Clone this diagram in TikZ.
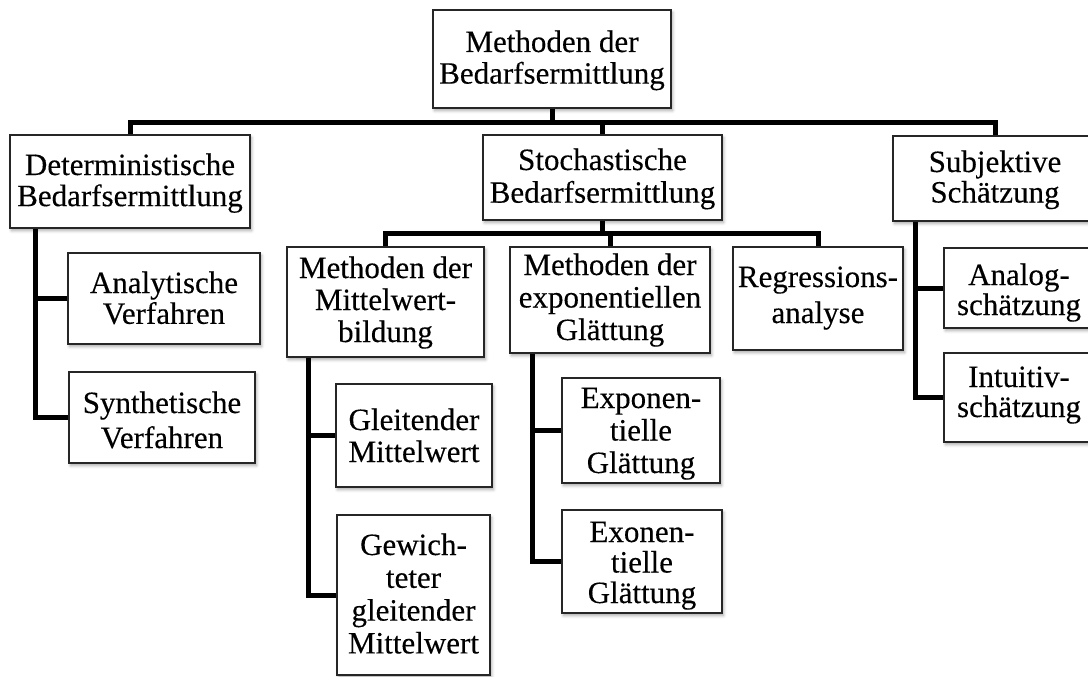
\documentclass[tikz,border=0pt]{standalone}
\usepackage{fontspec}
\setmainfont{Liberation Serif}
\newfontfamily\boxfont{Liberation Serif}[FakeBold=0.25]
\usetikzlibrary{shadows.blur}
\pgfdeclarelayer{bg}
\pgfsetlayers{bg,main}
\tikzset{
  box/.style={draw=black!85, line width=2.2pt, fill=white, inner sep=0pt,
    blur shadow={shadow xshift=1.5pt, shadow yshift=-2.5pt,
      shadow blur radius=3pt, shadow opacity=35}},
  label/.style={inner sep=0pt, anchor=base},
  conn/.style={line width=5pt, black, line join=miter, line cap=butt}
}
% \boxat{name}{left}{top}{right}{bottom}{leading}{first baseline}{lines}
\newcommand{\boxat}[8]{%
  \node[box, minimum width={#4-#2}, minimum height={#5-#3}] (#1)
    at ({(#2+#4)/2},{(#3+#5)/2}) {};
  \node[label] (#1-t) at ({(#2+#4)/2},#7)
    {\boxfont\fontsize{31}{#6}\selectfont\setlength{\tabcolsep}{0pt}%
     \begin{tabular}[t]{c}#8\end{tabular}};}
\begin{document}
\begin{tikzpicture}[x=1pt, y=-1pt]
\useasboundingbox (0,0) rectangle (1088,677);
\clip (0,0) rectangle (1088,677);

\boxat{root}{433}{10}{671}{108}{31.6}{52}{Methoden der\\Bedarfsermittlung}
\boxat{det}{10}{135}{250}{228}{31}{175}{Deterministische\\Bedarfsermittlung}
\boxat{sto}{483}{135}{722}{220}{32.7}{170}{Stochastische\\Bedarfsermittlung}
\boxat{sub}{893}{136}{1097}{221}{30}{172}{Subjektive\\Schätzung}
\boxat{ana}{68}{253}{260}{344}{30}{293}{Analytische\\Verfahren}
\boxat{syn}{69}{372}{255}{463}{35}{413}{Synthetische\\Verfahren}
\boxat{mit}{287}{247}{484}{357}{32}{278}{Methoden der\\Mittelwert-\\bildung}
\boxat{exp}{510}{247}{710}{353}{32.5}{275}{Methoden der\\exponentiellen\\Glättung}
\boxat{reg}{733}{247}{903}{350}{36}{287}{Regressions-\\analyse}
\boxat{alg}{944}{248}{1094}{328}{28.3}{285}{Analog-\\schätzung}
\boxat{int}{944}{353}{1094}{442}{28.3}{387}{Intuitiv-\\schätzung}
\boxat{gl}{336}{384}{492}{487}{32}{430}{Gleitender\\Mittelwert}
\boxat{gw}{337}{515}{490}{675}{32.8}{555}{Gewich-\\teter\\gleitender\\Mittelwert}
\boxat{ex1}{562}{378}{720}{483}{32.5}{408}{Exponen-\\tielle\\Glättung}
\boxat{ex2}{562}{510}{722}{613}{30}{542}{Exonen-\\tielle\\Glättung}

% bus levels and trunk positions
\coordinate (b1) at (0,122);
\coordinate (b2) at (0,233);
\coordinate (t1) at (35,0);
\coordinate (t2) at (308,0);
\coordinate (t3) at (532,0);
\coordinate (t4) at (915,0);

\begin{pgfonlayer}{bg}
  % first level
  \draw[conn] (root.south) -- (root.south |- b1);
  \draw[conn] (det.north) |- (sub.north |- b1) -- (sub.north);
  \draw[conn] (sto.north) -- (sto.north |- b1);
  % second level
  \draw[conn] (sto.south) -- (sto.south |- b2);
  \draw[conn] (mit.north) |- (reg.north |- b2) -- (reg.north);
  \draw[conn] (exp.north) -- (exp.north |- b2);
  % side trunks
  \draw[conn] (t1 |- det.south) |- (syn.west);
  \draw[conn] (t1 |- ana.west) -- (ana.west);
  \draw[conn] (t2 |- mit.south) |- (gw.west);
  \draw[conn] (t2 |- gl.west) -- (gl.west);
  \draw[conn] (t3 |- exp.south) |- (ex2.west);
  \draw[conn] (t3 |- ex1.west) -- (ex1.west);
  \draw[conn] (t4 |- sub.south) |- (int.west);
  \draw[conn] (t4 |- alg.west) -- (alg.west);
\end{pgfonlayer}
\end{tikzpicture}
\end{document}
